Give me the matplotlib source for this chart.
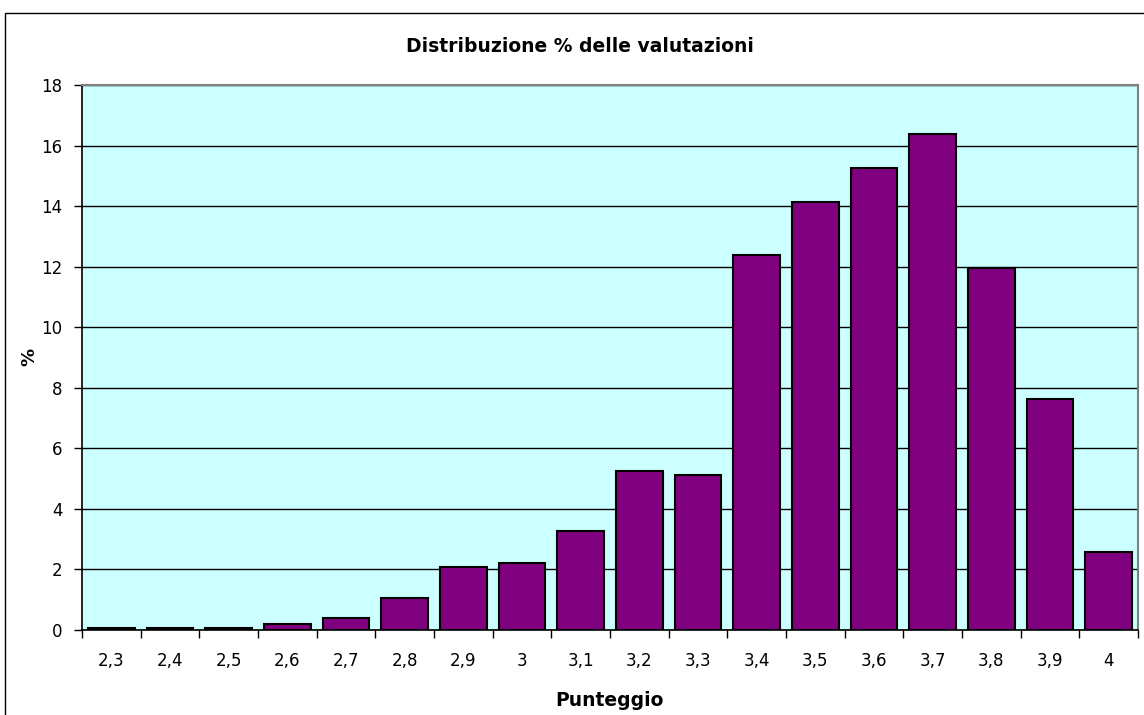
import matplotlib
matplotlib.use("Agg")
import matplotlib.pyplot as plt
import numpy as np
from matplotlib.patches import Rectangle

categories = ["2,3", "2,4", "2,5", "2,6", "2,7", "2,8", "2,9", "3", "3,1", "3,2",
              "3,3", "3,4", "3,5", "3,6", "3,7", "3,8", "3,9", "4"]
percentages = [0.08, 0.08, 0.08, 0.2, 0.4, 1.07, 2.07, 2.21, 3.27, 5.25,
               5.12, 12.4, 14.12, 15.25, 16.38, 11.95, 7.63, 2.58]
y_ticks = [0, 2, 4, 6, 8, 10, 12, 14, 16, 18]

plt.rcParams['font.family'] = ['DejaVu Sans']

W, H = 1144, 715
fig = plt.figure(figsize=(W / 100, H / 100), dpi=100)
fig.patch.set_facecolor('white')

# outer chart border
fig.patches.append(Rectangle((5 / W, -0.1), 1.2, (H - 13) / H + 0.1,
                             transform=fig.transFigure, fill=False,
                             edgecolor='black', linewidth=1.0))

left, right, top, bottom = 82, 1138, 85, 630
ax = fig.add_axes([left / W, (H - bottom) / H, (right - left) / W, (bottom - top) / H])
ax.set_facecolor('#CCFFFF')

x = np.arange(len(categories))
ax.bar(x, percentages, width=0.8, color='#800080', edgecolor='black', linewidth=1.5, zorder=3)

ax.set_xlim(-0.5, len(categories) - 0.5)
ax.set_ylim(0, 18)
ax.set_yticks(y_ticks)
ax.set_yticklabels([str(v) for v in y_ticks], fontsize=12)
ax.yaxis.grid(True, color='black', linewidth=1.0, zorder=0)
ax.set_axisbelow(True)

ax.set_xticks(x)
ax.set_xticklabels(categories, fontsize=12)
ax.set_xticks(np.arange(-0.5, len(categories)), minor=True)
ax.tick_params(axis='x', which='major', length=0, pad=16)
ax.tick_params(axis='x', which='minor', length=6, width=1, color='black', direction='out')
ax.tick_params(axis='y', length=6, width=1, color='black', direction='out', pad=8)

for side in ['top', 'right']:
    ax.spines[side].set_color('#808080')
    ax.spines[side].set_linewidth(1.5)
for side in ['left', 'bottom']:
    ax.spines[side].set_color('black')
    ax.spines[side].set_linewidth(1.2)
ax.spines['top'].set_zorder(4)

fig.text(580 / W, 1 - 47 / H, "Distribuzione % delle valutazioni", ha='center', va='center',
         fontsize=13.5, fontweight='bold')
fig.text(609 / W, 1 - 701 / H, "Punteggio", ha='center', va='center',
         fontsize=13.5, fontweight='bold')
fig.text(29 / W, 1 - 357 / H, "%", ha='center', va='center', rotation=90,
         fontsize=13, fontweight='bold')

fig.savefig("out.png", dpi=100)
